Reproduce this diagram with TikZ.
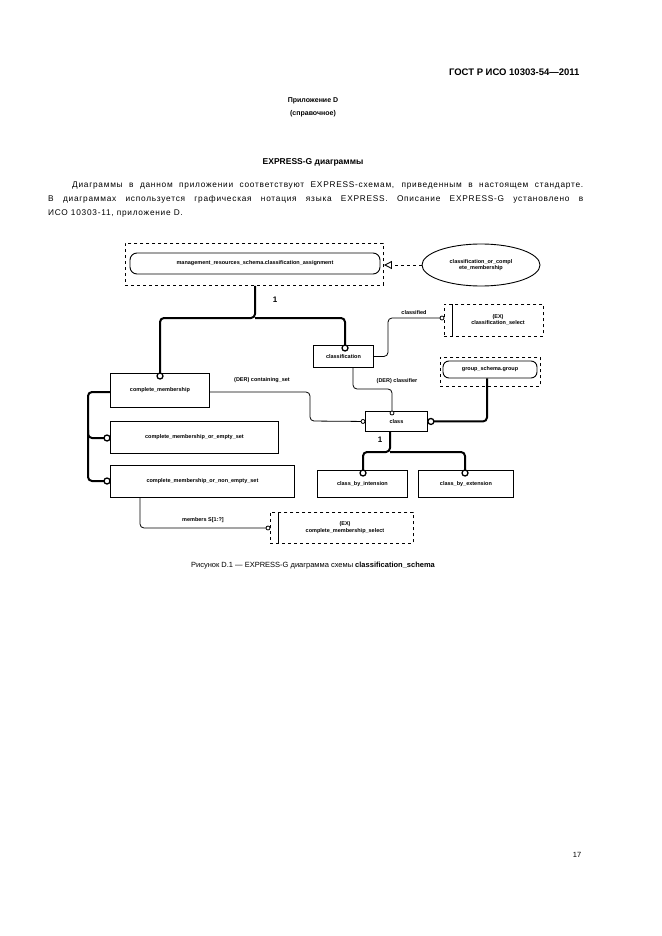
\documentclass[tikz,border=0pt]{standalone}
\usepackage{fontspec}
\setmainfont{Liberation Sans}
\newfontfamily\spacedfont[LetterSpace=9]{Liberation Sans}
\usetikzlibrary{arrows.meta,shapes.geometric}
\begin{document}
\begin{tikzpicture}[x=1pt,y=-1pt,
 lbl/.style={font=\bfseries\fontsize{5.5}{6.5}\selectfont,inner sep=0pt},
 ent/.style={draw,line width=0.9pt,lbl,anchor=north west},
 thick line/.style={line width=2pt,rounded corners=4pt},
 thin line/.style={line width=0.8pt,rounded corners=4pt},
 bigc/.style={circle,draw,line width=1.3pt,fill=white,inner sep=0pt,minimum size=6pt},
 smallc/.style={circle,draw,line width=0.8pt,fill=white,inner sep=0pt,minimum size=4pt},
 dbox/.style={draw,dashed,line width=0.9pt,anchor=north west}]
\useasboundingbox (0,0) rectangle (661,936);
% page text
\node[anchor=east,font=\bfseries\fontsize{9.5}{11}\selectfont] (hdr) at (583,72) {ГОСТ Р ИСО 10303-54—2011};
\node[font=\bfseries\fontsize{7}{8}\selectfont] (app) at (313,101) {Приложение D};
\node[font=\bfseries\fontsize{7}{8}\selectfont] (app2) at (313,114) {(справочное)};
\node[font=\bfseries\fontsize{8.5}{10}\selectfont] (ttl) at (313,162) {EXPRESS-G диаграммы};
\node[anchor=north west,inner sep=0pt,text width=535pt,align=justify,font=\spacedfont\fontsize{8.3}{14}\selectfont] (par) at (48,182)
 {\hspace*{24pt}Диаграммы в данном приложении соответствуют EXPRESS-схемам, приведенным в настоящем стандарте.\linebreak В~диаграммах используется графическая нотация языка EXPRESS. Описание EXPRESS-G установлено в\linebreak ИСО 10303-11, приложение D.};
% top
\node[dbox,minimum width=258pt,minimum height=42pt] (mrbox) at (125,243) {};
\node[ent,rounded corners=7pt,minimum width=250pt,minimum height=21pt,anchor=center] (mr) at (255,263.5) {management\_resources\_schema.classification\_assignment};
\node[ellipse,draw,line width=0.9pt,minimum width=118pt,minimum height=42pt,lbl,align=center] (ell) at (481,265) {classification\_or\_compl\\ete\_membership};
\draw[dashed,line width=0.9pt,-{Triangle[open,length=8pt,width=8pt]}] (ell.west) -- (mrbox.east|-ell.west);
% classification
\node[ent,minimum width=60pt,minimum height=22pt] (cl) at (313,345) {classification};
\node[dbox,minimum width=99pt,minimum height=32pt] (exc) at (444,304) {};
\draw[line width=0.9pt] ([xshift=8pt]exc.north west) -- ([xshift=8pt]exc.south west);
\node[lbl,align=center] (exct) at (498,320) {(EX)\\classification\_select};
% group
\node[dbox,minimum width=100pt,minimum height=29pt] (grbox) at (440,357) {};
\node[ent,rounded corners=6pt,minimum width=94pt,minimum height=17pt,anchor=center] (gr) at (490,369.5) {group\_schema.group};
% class
\node[ent,minimum width=62pt,minimum height=20pt] (cs) at (365,411) {class};
\node[ent,minimum width=99pt,minimum height=34pt] (cm) at (110,373) {complete\_membership};
\node[ent,minimum width=168pt,minimum height=32pt] (ce) at (110,421) {complete\_membership\_or\_empty\_set};
\node[ent,minimum width=184pt,minimum height=32pt] (cn) at (110,465) {complete\_membership\_or\_non\_empty\_set};
\node[ent,minimum width=90pt,minimum height=27pt] (ci) at (317,470) {class\_by\_intension};
\node[ent,minimum width=95pt,minimum height=27pt] (cx) at (418,470) {class\_by\_extension};
\node[dbox,minimum width=143pt,minimum height=31pt] (exm) at (270,512) {};
\draw[line width=0.9pt] ([xshift=8pt]exm.north west) -- ([xshift=8pt]exm.south west);
\node[lbl,align=center] (exmt) at (345,527.5) {(EX)\\complete\_membership\_select};
% coordinates
\coordinate (b1) at (255,318);
\coordinate (b2) at (390,452);
% supertype tree top
\draw[thick line] (mrbox.south-|b1) -- (b1) -| ([yshift=-3pt]cm.north-|160,0);
\draw[thick line] (b1) -| ([yshift=-3pt]cl.north-|345,0);
\node[bigc] at ([yshift=-3pt]cm.north-|160,0) {};
\node[bigc] at ([yshift=-3pt]cl.north-|345,0) {};
\node[font=\bfseries\fontsize{8}{9}\selectfont] (one1) at (275,300) {1};
% classified
\draw[thin line] (cl.east) -| (388,318) -- ([xshift=-2pt]exc.west|-0,318);
\node[smallc] at ([xshift=-2pt]exc.west|-0,318) {};
\node[lbl] (clab) at (414,313) {classified};
% classifier
\draw[thin line] (cl.south-|353,0) |- (392,389) -- ([yshift=-2pt]cs.north-|392,0);
\node[smallc] at ([yshift=-2pt]cs.north-|392,0) {};
\node[lbl] (clr) at (397,381) {(DER) classifier};
% group line
\draw[thick line] (gr.south-|487,0) |- ([xshift=3pt]cs.east);
\node[bigc] at ([xshift=3pt]cs.east) {};
% containing set
\draw[thin line] (cm.east|-0,392) -| (310,421) -- ([xshift=-2pt]cs.west);
\node[smallc] at ([xshift=-2pt]cs.west) {};
\node[lbl] (cset) at (262,380) {(DER) containing\_set};
% complete membership subtypes
\draw[thick line] (cm.west|-0,392) -| (88,438) -- ([xshift=-3pt]ce.west|-0,438);
\draw[thick line] (88,430) |- ([xshift=-3pt]cn.west|-0,481);
\node[bigc] at ([xshift=-3pt]ce.west|-0,438) {};
\node[bigc] at ([xshift=-3pt]cn.west|-0,481) {};
% class subtypes
\draw[thick line] (cs.south-|b2) -- (b2) -| ([yshift=-3pt]ci.north-|363,0);
\draw[thick line] (b2) -| ([yshift=-3pt]cx.north-|465,0);
\node[bigc] at ([yshift=-3pt]ci.north-|363,0) {};
\node[bigc] at ([yshift=-3pt]cx.north-|465,0) {};
\node[font=\bfseries\fontsize{8}{9}\selectfont] (one2) at (380,440) {1};
% members
\draw[thin line] (cn.south-|140,0) |- ([xshift=-2pt]exm.west|-0,528);
\node[smallc] at ([xshift=-2pt]exm.west|-0,528) {};
\node[lbl] (mem) at (203,520) {members S[1:?]};
% caption
\node[font=\fontsize{7.5}{9}\selectfont] (cap) at (313,566) {Рисунок D.1 — EXPRESS-G диаграмма схемы \textbf{classification\_schema}};
\node[font=\fontsize{7.5}{9}\selectfont] (pg) at (577,855) {17};
\end{tikzpicture}
\end{document}
